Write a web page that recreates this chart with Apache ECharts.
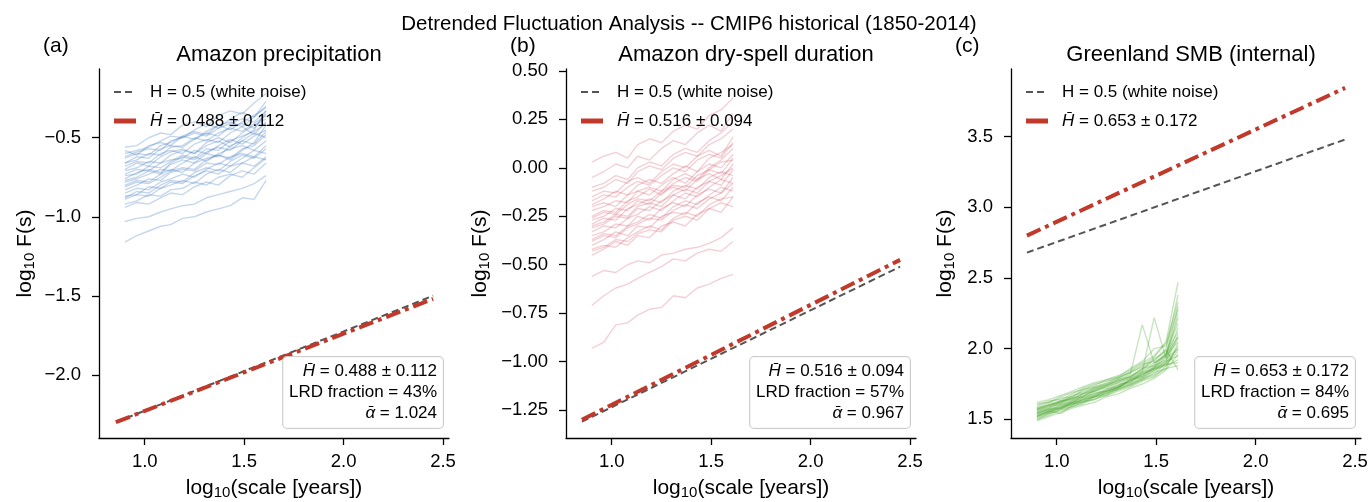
<!DOCTYPE html>
<html>
<head>
<meta charset="utf-8">
<script src="https://cdn.jsdelivr.net/npm/echarts@6/dist/echarts.min.js"></script>
<style>
  html, body { margin: 0; padding: 0; background: #fff; }
  #chart { width: 1369px; height: 502px; }
</style>
</head>
<body>
<div id="chart"></div>
<script>
// DFA scales, log10(years)
const scales = [0.90, 0.96, 1.02, 1.08, 1.13, 1.19, 1.25, 1.31, 1.37, 1.43, 1.49, 1.55, 1.61];

// (a) Amazon precipitation, one row per model run
const precipRuns = [
  [-0.56,-0.55,-0.50,-0.47,-0.48,-0.42,-0.40,-0.43,-0.36,-0.33,-0.35,-0.28,-0.22],
  [-0.60,-0.58,-0.56,-0.52,-0.49,-0.50,-0.45,-0.41,-0.44,-0.38,-0.34,-0.37,-0.27],
  [-0.63,-0.60,-0.61,-0.55,-0.53,-0.49,-0.51,-0.46,-0.42,-0.45,-0.40,-0.36,-0.31],
  [-0.66,-0.64,-0.60,-0.61,-0.56,-0.55,-0.50,-0.52,-0.47,-0.44,-0.46,-0.41,-0.36],
  [-0.68,-0.65,-0.66,-0.60,-0.58,-0.60,-0.54,-0.51,-0.53,-0.47,-0.43,-0.48,-0.40],
  [-0.71,-0.69,-0.65,-0.66,-0.61,-0.58,-0.60,-0.55,-0.52,-0.56,-0.50,-0.45,-0.33],
  [-0.73,-0.70,-0.71,-0.66,-0.64,-0.63,-0.58,-0.60,-0.55,-0.51,-0.54,-0.49,-0.45],
  [-0.76,-0.72,-0.70,-0.72,-0.66,-0.62,-0.64,-0.59,-0.56,-0.58,-0.52,-0.47,-0.50],
  [-0.78,-0.76,-0.73,-0.70,-0.71,-0.66,-0.62,-0.65,-0.60,-0.57,-0.55,-0.58,-0.52],
  [-0.80,-0.77,-0.78,-0.73,-0.70,-0.72,-0.66,-0.63,-0.61,-0.64,-0.58,-0.53,-0.42],
  [-0.83,-0.80,-0.76,-0.77,-0.72,-0.70,-0.71,-0.66,-0.67,-0.62,-0.60,-0.62,-0.55],
  [-0.85,-0.82,-0.83,-0.78,-0.76,-0.73,-0.75,-0.70,-0.66,-0.68,-0.63,-0.58,-0.60],
  [-0.87,-0.86,-0.81,-0.82,-0.78,-0.79,-0.74,-0.71,-0.73,-0.68,-0.66,-0.68,-0.62],
  [-0.89,-0.86,-0.87,-0.82,-0.80,-0.77,-0.79,-0.73,-0.70,-0.72,-0.66,-0.62,-0.64],
  [-0.92,-0.90,-0.86,-0.87,-0.83,-0.82,-0.78,-0.80,-0.75,-0.73,-0.75,-0.69,-0.63],
  [-0.94,-0.91,-0.92,-0.88,-0.85,-0.86,-0.81,-0.78,-0.80,-0.74,-0.71,-0.73,-0.66],
  [-0.58,-0.61,-0.55,-0.53,-0.55,-0.49,-0.46,-0.48,-0.42,-0.40,-0.43,-0.37,-0.30],
  [-0.70,-0.66,-0.68,-0.62,-0.59,-0.57,-0.60,-0.53,-0.50,-0.53,-0.47,-0.42,-0.38],
  [-1.03,-1.01,-1.00,-0.97,-0.95,-0.93,-0.92,-0.88,-0.86,-0.84,-0.82,-0.79,-0.74],
  [-1.16,-1.12,-1.09,-1.06,-1.05,-1.01,-1.00,-0.97,-0.95,-0.93,-0.88,-0.89,-0.77],
  [-0.62,-0.59,-0.57,-0.58,-0.52,-0.50,-0.47,-0.49,-0.44,-0.41,-0.38,-0.40,-0.33],
  [-0.74,-0.73,-0.68,-0.69,-0.65,-0.61,-0.63,-0.57,-0.58,-0.52,-0.49,-0.46,-0.41],
  [-0.81,-0.78,-0.79,-0.75,-0.71,-0.69,-0.70,-0.64,-0.61,-0.63,-0.57,-0.55,-0.48],
  [-0.66,-0.62,-0.63,-0.57,-0.55,-0.56,-0.51,-0.47,-0.49,-0.43,-0.41,-0.44,-0.35],
  [-0.88,-0.84,-0.85,-0.80,-0.77,-0.78,-0.72,-0.69,-0.71,-0.65,-0.61,-0.63,-0.57],
  [-0.77,-0.75,-0.71,-0.73,-0.67,-0.64,-0.66,-0.60,-0.62,-0.55,-0.52,-0.54,-0.46]
];

// (b) Amazon dry-spell duration
const drySpellRuns = [
  [0.03,0.06,0.08,0.05,0.12,0.15,0.13,0.19,0.22,0.20,0.27,0.30,0.36],
  [-0.05,-0.02,0.02,0.00,0.06,0.04,0.10,0.14,0.12,0.18,0.22,0.19,0.28],
  [-0.10,-0.08,-0.04,-0.06,0.00,0.03,0.01,0.07,0.10,0.08,0.14,0.18,0.24],
  [-0.15,-0.12,-0.13,-0.07,-0.05,-0.08,-0.02,0.02,0.00,0.06,0.09,0.06,0.16],
  [-0.19,-0.16,-0.12,-0.14,-0.09,-0.06,-0.08,-0.03,0.01,-0.02,0.05,0.08,0.12],
  [-0.22,-0.20,-0.17,-0.18,-0.12,-0.14,-0.09,-0.05,-0.08,-0.02,0.02,0.00,0.07],
  [-0.25,-0.22,-0.23,-0.17,-0.15,-0.11,-0.14,-0.08,-0.05,-0.07,-0.01,0.03,0.04],
  [-0.27,-0.25,-0.21,-0.22,-0.17,-0.19,-0.13,-0.10,-0.12,-0.06,-0.03,-0.06,0.02],
  [-0.29,-0.26,-0.27,-0.21,-0.19,-0.16,-0.18,-0.12,-0.09,-0.11,-0.05,-0.02,-0.04],
  [-0.31,-0.29,-0.25,-0.26,-0.21,-0.22,-0.17,-0.14,-0.16,-0.10,-0.07,-0.09,-0.01],
  [-0.33,-0.30,-0.31,-0.26,-0.24,-0.20,-0.22,-0.17,-0.13,-0.15,-0.10,-0.06,-0.08],
  [-0.35,-0.33,-0.29,-0.30,-0.25,-0.27,-0.21,-0.18,-0.20,-0.14,-0.11,-0.13,-0.05],
  [-0.37,-0.34,-0.35,-0.30,-0.28,-0.24,-0.26,-0.20,-0.17,-0.19,-0.14,-0.10,-0.12],
  [-0.40,-0.37,-0.33,-0.35,-0.30,-0.31,-0.25,-0.23,-0.24,-0.18,-0.15,-0.17,-0.10],
  [-0.42,-0.40,-0.41,-0.36,-0.33,-0.30,-0.32,-0.26,-0.23,-0.25,-0.19,-0.16,-0.15],
  [-0.45,-0.42,-0.38,-0.40,-0.35,-0.36,-0.30,-0.28,-0.30,-0.24,-0.21,-0.23,-0.15],
  [-0.20,-0.18,-0.20,-0.14,-0.12,-0.10,-0.12,-0.06,-0.03,-0.06,0.00,0.04,0.10],
  [-0.56,-0.53,-0.54,-0.50,-0.48,-0.49,-0.45,-0.44,-0.42,-0.41,-0.39,-0.36,-0.31],
  [-0.71,-0.66,-0.62,-0.60,-0.57,-0.54,-0.51,-0.47,-0.48,-0.44,-0.42,-0.43,-0.38],
  [-0.93,-0.90,-0.81,-0.80,-0.76,-0.73,-0.72,-0.66,-0.67,-0.62,-0.60,-0.57,-0.55],
  [-0.12,-0.10,-0.06,-0.08,-0.02,0.01,-0.01,0.05,0.08,0.06,0.12,0.15,0.20],
  [-0.26,-0.23,-0.24,-0.19,-0.16,-0.17,-0.12,-0.09,-0.10,-0.04,-0.01,-0.03,0.05],
  [-0.30,-0.28,-0.24,-0.25,-0.20,-0.18,-0.20,-0.14,-0.11,-0.13,-0.07,-0.04,0.00],
  [-0.38,-0.35,-0.36,-0.31,-0.29,-0.26,-0.27,-0.22,-0.19,-0.21,-0.16,-0.13,-0.08],
  [-0.17,-0.14,-0.15,-0.10,-0.07,-0.09,-0.04,0.00,-0.02,0.04,0.07,0.05,0.13],
  [-0.43,-0.41,-0.37,-0.38,-0.34,-0.32,-0.33,-0.27,-0.25,-0.27,-0.21,-0.18,-0.20]
];

// (c) Greenland SMB (internal)
const smbRuns = [
  [1.62,1.64,1.67,1.70,1.73,1.76,1.78,1.81,1.85,1.90,1.95,2.05,2.47],
  [1.59,1.62,1.65,1.66,1.71,1.73,1.76,1.80,1.83,1.87,1.92,2.00,2.38],
  [1.57,1.60,1.63,1.65,1.68,1.71,1.74,1.77,1.80,1.86,1.88,1.96,2.30],
  [1.55,1.58,1.61,1.64,1.66,1.70,1.72,1.74,1.79,1.82,1.86,1.94,2.22],
  [1.54,1.57,1.59,1.63,1.65,1.67,1.71,1.75,1.76,1.80,1.84,1.92,2.15],
  [1.52,1.55,1.58,1.60,1.64,1.66,1.68,1.72,1.75,1.79,1.82,1.90,2.08],
  [1.50,1.53,1.57,1.59,1.61,1.65,1.67,1.70,1.73,1.77,1.80,1.88,2.02],
  [1.49,1.52,1.55,1.58,1.60,1.62,1.66,1.68,1.72,1.75,1.79,1.85,1.96],
  [1.58,1.60,1.62,1.67,1.69,1.72,1.75,1.78,1.82,2.17,1.90,1.95,2.05],
  [1.56,1.59,1.61,1.63,1.67,1.70,1.73,1.76,1.79,1.84,2.22,1.93,2.00],
  [1.53,1.56,1.60,1.62,1.64,1.68,1.70,1.74,1.77,1.82,1.85,1.88,1.92],
  [1.51,1.54,1.57,1.61,1.63,1.64,1.69,1.71,1.74,1.78,1.83,1.86,1.88],
  [1.60,1.63,1.64,1.68,1.72,1.75,1.77,1.79,1.84,1.89,1.91,1.99,1.85],
  [1.55,1.57,1.60,1.62,1.65,1.69,1.70,1.73,1.78,1.81,1.87,1.91,1.95],
  [1.52,1.56,1.58,1.62,1.63,1.67,1.69,1.73,1.76,1.83,1.88,1.92,2.10],
  [1.57,1.59,1.63,1.64,1.68,1.72,1.74,1.77,1.81,1.85,1.93,1.98,2.18],
  [1.54,1.56,1.54,1.60,1.62,1.66,1.70,1.72,1.78,1.80,1.86,1.89,1.98],
  [1.58,1.61,1.63,1.66,1.70,1.73,1.75,1.79,1.83,1.88,1.94,2.04,2.33],
  [1.53,1.55,1.59,1.61,1.64,1.66,1.70,1.73,1.77,1.81,1.87,1.95,2.25],
  [1.56,1.58,1.62,1.65,1.66,1.71,1.73,1.76,1.80,1.84,1.89,1.97,2.12],
  [1.50,1.54,1.56,1.59,1.62,1.64,1.67,1.71,1.74,1.78,1.81,1.86,2.04],
  [1.61,1.62,1.66,1.69,1.71,1.74,1.78,1.80,1.86,1.91,2.00,2.02,2.28],
  [1.54,1.57,1.58,1.62,1.66,1.68,1.71,1.73,1.78,1.83,1.86,1.90,2.00],
  [1.52,1.55,1.58,1.61,1.62,1.66,1.68,1.72,1.75,1.79,1.85,1.89,1.90],
  [1.57,1.60,1.62,1.65,1.68,1.70,1.74,1.78,1.80,1.86,1.90,1.96,2.08]
];

// reference (H = 0.5) and mean-fit lines, [x, y] end points
const refPrecip = [[0.855, -2.30], [2.45, -1.50]];
const fitPrecip = [[0.855, -2.30], [2.45, -1.52]];
const refDry = [[0.85, -1.31], [2.45, -0.51]];
const fitDry = [[0.85, -1.30], [2.45, -0.475]];
const refSmb = [[0.85, 2.68], [2.45, 3.48]];
const fitSmb = [[0.85, 2.80], [2.45, 3.845]];

const xTicks = [1.0, 1.5, 2.0, 2.5];
const yTicksPrecip = [-2.0, -1.5, -1.0, -0.5];
const yTicksDry = [-1.25, -1.0, -0.75, -0.5, -0.25, 0, 0.25, 0.5];
const yTicksSmb = [1.5, 2.0, 2.5, 3.0, 3.5];

const titles = ['Amazon precipitation', 'Amazon dry-spell duration', 'Greenland SMB (internal)'];
const letters = ['(a)', '(b)', '(c)'];
const hMean = ['0.488 ± 0.112', '0.516 ± 0.094', '0.653 ± 0.172'];
const lrdFrac = ['43%', '57%', '84%'];
const alphaMean = ['1.024', '0.967', '0.695'];

const FONT = '"Liberation Sans", Arial, Helvetica, sans-serif';
const fitColor = '#c0392b';
const refColor = '#555555';

const panels = [
  { runs: precipRuns, ref: refPrecip, fit: fitPrecip, ticks: yTicksPrecip, ymin: -2.40, ymax: -0.065, dec: 1,
    color: 'rgba(50,110,185,0.28)', left: 99, nameGap: 62 },
  { runs: drySpellRuns, ref: refDry, fit: fitDry, ticks: yTicksDry, ymin: -1.394, ymax: 0.51, dec: 2,
    color: 'rgba(200,40,70,0.22)', left: 566, nameGap: 74 },
  { runs: smbRuns, ref: refSmb, fit: fitSmb, ticks: yTicksSmb, ymin: 1.368, ymax: 3.979, dec: 1,
    color: 'rgba(70,165,40,0.30)', left: 1011, nameGap: 54 }
];
const gridTop = 69, gridW = 350, gridH = 369;

const fmt = (v, d) => v.toFixed(d).replace('-', '\u2212');
const subRich = { sub: { fontSize: 15, fontFamily: FONT, verticalAlign: 'bottom', padding: [9, 0, 0, 0] } };

const option = {
  animation: false,
  backgroundColor: '#fff',
  textStyle: { fontFamily: FONT },
  title: [
    { text: 'Detrended Fluctuation Analysis -- CMIP6 historical (1850-2014)', left: 684, top: 9, textAlign: 'center',
      textStyle: { fontSize: 20.5, fontWeight: 'normal', color: '#000', fontFamily: FONT } }
  ],
  grid: [],
  xAxis: [],
  yAxis: [],
  series: [],
  graphic: []
};

panels.forEach((p, k) => {
  option.grid.push({ left: p.left, top: gridTop, width: gridW, height: gridH,
    containLabel: false, outerBoundsMode: 'none' });
  option.title.push({ text: titles[k], left: p.left + gridW / 2, top: 39, textAlign: 'center',
    textStyle: { fontSize: 22, fontWeight: 'normal', color: '#000', fontFamily: FONT } });
  option.title.push({ text: letters[k], left: p.left - 61, top: 31,
    textStyle: { fontSize: 21, fontWeight: 'normal', color: '#000', fontFamily: FONT } });

  option.xAxis.push({
    type: 'value', gridIndex: k, min: 0.77, max: 2.53,
    name: 'log{sub|10}(scale [years])', nameLocation: 'middle', nameGap: 38,
    nameTextStyle: { fontSize: 21, color: '#000', fontFamily: FONT, rich: subRich },
    axisLine: { show: true, onZero: false, lineStyle: { color: '#000', width: 1.3 } },
    axisTick: { show: true, length: 7, lineStyle: { color: '#000', width: 1.3 }, customValues: xTicks },
    axisLabel: { customValues: xTicks, margin: 14, fontSize: 18.5, color: '#000', fontFamily: FONT,
      formatter: v => fmt(v, 1) },
    splitLine: { show: false }
  });
  option.yAxis.push({
    type: 'value', gridIndex: k, min: p.ymin, max: p.ymax,
    name: 'log{sub|10} F(s)', nameLocation: 'middle', nameGap: p.nameGap, nameRotate: 90,
    nameTextStyle: { fontSize: 21, color: '#000', fontFamily: FONT, rich: subRich },
    axisLine: { show: true, onZero: false, lineStyle: { color: '#000', width: 1.3 } },
    axisTick: { show: true, length: 7, lineStyle: { color: '#000', width: 1.3 }, customValues: p.ticks },
    axisLabel: { customValues: p.ticks, margin: 18, fontSize: 18.5, color: '#000', fontFamily: FONT,
      formatter: v => fmt(v, p.dec) },
    splitLine: { show: false }
  });

  p.runs.forEach(run => {
    option.series.push({
      type: 'line', xAxisIndex: k, yAxisIndex: k, silent: true, showSymbol: false, z: 1,
      data: scales.map((x, i) => [x, run[i]]),
      lineStyle: { color: p.color, width: 1.4 }
    });
  });
  option.series.push({
    name: 'H = 0.5 (white noise)', type: 'line', xAxisIndex: k, yAxisIndex: k, silent: true, showSymbol: false, z: 3,
    data: p.ref, lineStyle: { color: refColor, width: 2, type: [7, 4] }
  });
  option.series.push({
    name: 'fit', type: 'line', xAxisIndex: k, yAxisIndex: k, silent: true, showSymbol: false, z: 4,
    data: p.fit, lineStyle: { color: fitColor, width: 4, type: [15, 5, 4, 5] }
  });

  // legend (upper left)
  const L = p.left, T = gridTop;
  option.graphic.push(
    { type: 'line', z: 10, shape: { x1: L + 15, y1: T + 23, x2: L + 37, y2: T + 23 },
      style: { stroke: refColor, lineWidth: 2, lineDash: [7, 4] } },
    { type: 'text', z: 10, x: L + 51, y: T + 23,
      style: { text: 'H = 0.5 (white noise)', fill: '#000', font: '17px ' + FONT, verticalAlign: 'middle' } },
    { type: 'line', z: 10, shape: { x1: L + 15, y1: T + 52, x2: L + 37, y2: T + 52 },
      style: { stroke: fitColor, lineWidth: 5 } },
    { type: 'text', z: 10, x: L + 51, y: T + 52,
      style: { text: '{it|H\u0304} = ' + hMean[k], fill: '#000', font: '17px ' + FONT, verticalAlign: 'middle',
        rich: { it: { fontStyle: 'italic', fontSize: 17, fontFamily: FONT } } } }
  );
  // stats box (lower right)
  option.graphic.push({
    type: 'text', z: 20, x: L + gridW - 6, y: T + gridH - 10,
    style: {
      text: '{it|H\u0304} = ' + hMean[k] + '\nLRD fraction = ' + lrdFrac[k] + '\n{it|\u03b1\u0304} = ' + alphaMean[k],
      fill: '#000', font: '17px ' + FONT, align: 'right', verticalAlign: 'bottom', lineHeight: 21,
      backgroundColor: 'rgba(255,255,255,0.85)', borderColor: '#cccccc', borderWidth: 1, borderRadius: 4,
      padding: [4, 6, 4, 6],
      rich: { it: { fontStyle: 'italic', fontSize: 17, fontFamily: FONT, lineHeight: 21 } }
    }
  });
});

const chart = echarts.init(document.getElementById('chart'), null, { renderer: 'canvas' });
chart.setOption(option);
</script>
</body>
</html>
